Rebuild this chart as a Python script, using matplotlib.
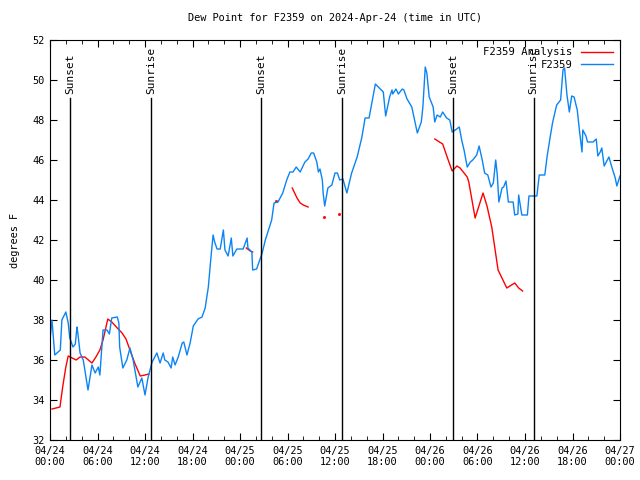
import numpy as np
import matplotlib
matplotlib.use("Agg")
import matplotlib.pyplot as plt
from matplotlib.ticker import MultipleLocator

# F2359 station dew point, hours since 04/24 00:00 UTC
obs_hours = [0.0, 0.25, 0.6, 1.3, 1.5, 2.0, 2.3, 2.5, 2.9, 3.2, 3.4, 3.5, 3.8, 4.2, 4.8, 5.3, 5.7, 6.1, 6.3, 6.7,
             7.2, 7.5, 7.8, 8.5, 8.7, 8.8, 9.2, 9.7, 10.1, 10.5, 11.1, 11.6, 12.0, 12.4, 12.9, 13.5, 13.9, 14.3, 14.5, 14.9,
             15.3, 15.5, 15.8, 16.2, 16.7, 16.9, 17.3, 17.7, 18.1, 18.7, 19.2, 19.6, 20.0, 20.3, 20.6, 20.8, 21.1, 21.5, 21.9, 22.1,
             22.5, 22.9, 23.1, 23.6, 24.4, 24.9, 25.0, 25.5, 25.6, 26.1, 26.8, 27.2, 28.0, 28.3, 28.8, 29.4, 29.9, 30.3, 30.7, 31.1,
             31.6, 32.2, 32.6, 33.0, 33.3, 33.7, 33.9, 34.1, 34.4, 34.5, 34.7, 35.1, 35.6, 36.0, 36.3, 36.6, 37.0, 37.5, 38.1, 38.8,
             39.4, 39.8, 40.3, 41.1, 41.6, 42.1, 42.4, 42.9, 43.2, 43.3, 43.7, 44.0, 44.5, 44.7, 45.1, 45.7, 46.1, 46.4, 46.9, 47.1,
             47.4, 47.6, 47.9, 48.4, 48.6, 48.9, 49.3, 49.6, 50.1, 50.5, 50.8, 51.2, 51.7, 52.0, 52.3, 52.7, 53.1, 53.4, 53.9, 54.2,
             54.6, 54.9, 55.3, 55.7, 56.0, 56.3, 56.5, 56.7, 57.1, 57.3, 57.6, 57.9, 58.5, 58.7, 59.1, 59.2, 59.6, 60.3, 60.5, 61.5,
             61.8, 62.5, 62.8, 63.2, 63.5, 64.0, 64.5, 64.8, 65.0, 65.3, 65.6, 65.9, 66.2, 66.6, 66.9, 67.2, 67.3, 67.7, 67.9, 68.6,
             69.0, 69.2, 69.5, 69.7, 70.0, 70.4, 70.6, 71.0, 71.4, 71.6, 72.0]
obs_dewpt = [37.0, 38.0, 36.25, 36.5, 38.0, 38.4, 37.85, 37.1, 36.65, 36.8, 37.65, 37.4, 36.35, 36.0, 34.5, 35.75, 35.35, 35.65, 35.25, 37.5,
             37.5, 37.3, 38.1, 38.15, 37.85, 36.65, 35.6, 36.0, 36.6, 36.0, 34.65, 35.1, 34.25, 35.15, 35.9, 36.35, 35.85, 36.35, 36.0, 35.9,
             35.6, 36.15, 35.75, 36.15, 36.85, 36.9, 36.25, 36.85, 37.7, 38.05, 38.15, 38.6, 39.65, 41.0, 42.25, 41.9, 41.55, 41.55, 42.5, 41.5,
             41.2, 42.1, 41.2, 41.55, 41.55, 42.1, 41.6, 41.4, 40.5, 40.55, 41.35, 42.0, 43.0, 43.85, 43.9, 44.35, 45.0, 45.4, 45.4, 45.65,
             45.4, 45.9, 46.05, 46.35, 46.35, 45.9, 45.4, 45.55, 45.0, 44.35, 43.7, 44.6, 44.75, 45.35, 45.35, 45.0, 45.05, 44.35, 45.35, 46.15,
             47.15, 48.1, 48.1, 49.8, 49.6, 49.4, 48.2, 49.15, 49.5, 49.3, 49.55, 49.3, 49.55, 49.5, 49.05, 48.65, 47.9, 47.35, 47.9, 48.65,
             50.65, 50.35, 49.15, 48.65, 47.9, 48.25, 48.15, 48.4, 48.1, 48.0, 47.4, 47.5, 47.65, 47.0, 46.5, 45.65, 45.9, 46.0, 46.25, 46.7,
             46.0, 45.35, 45.25, 44.65, 44.85, 46.0, 45.25, 43.9, 44.6, 44.65, 44.95, 43.9, 43.9, 43.25, 43.3, 44.25, 43.25, 43.25, 44.2, 44.2,
             45.25, 45.25, 46.2, 47.2, 47.9, 48.75, 49.0, 50.5, 50.6, 49.25, 48.4, 49.2, 49.15, 48.5, 47.4, 46.4, 47.5, 47.2, 46.9, 46.9,
             47.05, 46.2, 46.4, 46.6, 45.7, 46.0, 46.15, 45.6, 45.1, 44.7, 45.2]

# analysis values, nan = missing
ana_hours = [0.25, 1.26, 1.6, 2.0, 2.3, 2.8, 3.3, 3.8, 4.4, 5.3, 5.8, 6.3, 6.7, 7.3, 7.8, 8.5, 9.1, 9.6, 10.1, 10.7,
             11.4, 12.0, 12.5, 18.0, 24.8, 25.3, 25.6, 27.0, 28.5, 29.5, 30.6, 31.2, 31.6, 32.0, 32.6, 33.5, 34.6, 35.5, 36.5, 42.0,
             48.6, 49.6, 50.3, 50.8, 51.4, 51.8, 52.7, 52.9, 53.7, 54.7, 55.2, 55.8, 56.6, 57.7, 58.7, 59.2, 59.7]
ana_dewpt = [33.55, 33.65, 34.65, 35.65, 36.2, 36.1, 36.0, 36.15, 36.15, 35.85, 36.15, 36.5, 37.0, 38.05, 37.9, 37.6, 37.35, 37.05, 36.5, 35.85,
             35.2, 35.25, 35.3, np.nan, 41.6, 41.45, 41.4, np.nan, 43.95, np.nan, 44.6, 44.1, 43.85, 43.75, 43.65, np.nan, 43.15, np.nan, 43.3, np.nan,
             47.05, 46.8, 46.0, 45.45, 45.7, 45.6, 45.15, 44.9, 43.1, 44.35, 43.7, 42.65, 40.5, 39.6, 39.85, 39.6, 39.45]

sun_hours = [2.53, 12.76, 26.65, 36.9, 50.9, 61.1]
sun_labels = ["Sunset", "Sunrise", "Sunset", "Sunrise", "Sunset", "Sunrise"]

tick_labels = ["04/24\n00:00", "04/24\n06:00", "04/24\n12:00", "04/24\n18:00",
               "04/25\n00:00", "04/25\n06:00", "04/25\n12:00", "04/25\n18:00",
               "04/26\n00:00", "04/26\n06:00", "04/26\n12:00", "04/26\n18:00", "04/27\n00:00"]

plt.rcParams["font.family"] = "DejaVu Sans Mono"
plt.rcParams["font.size"] = 7.4

fig = plt.figure(figsize=(6.4, 4.8), dpi=100)
ax = fig.add_axes([50 / 640, 40 / 480, 570 / 640, 400 / 480])

red = "#ff0000"
blue = "#0a84f5"

ah = np.array(ana_hours)
av = np.array(ana_dewpt)
ax.plot(ah, av, color=red, lw=1.0)
# lone analysis values have no neighbours to join, mark them as dots
lone = [i for i in range(len(av)) if not np.isnan(av[i])
        and (i == 0 or np.isnan(av[i - 1])) and (i == len(av) - 1 or np.isnan(av[i + 1]))]
ax.plot(ah[lone], av[lone], ls="none", marker="s", ms=1.0, color=red)
ax.plot(obs_hours, obs_dewpt, color=blue, lw=1.0)

for h, lab in zip(sun_hours, sun_labels):
    ax.plot([h, h], [32, 49.1], color="black", lw=1.0)
    ax.text(h, 49.3, lab, rotation=90, ha="center", va="bottom", fontsize=8)

ax.set_xlim(0, 72)
ax.set_ylim(32, 52)
ax.set_xticks(np.arange(0, 73, 6))
ax.set_xticklabels(tick_labels)
ax.xaxis.set_minor_locator(MultipleLocator(2))
ax.yaxis.set_major_locator(MultipleLocator(2))
ax.tick_params(which="both", direction="in", top=True, right=True, pad=4)
ax.tick_params(which="major", length=5)
ax.tick_params(which="minor", length=3)
ax.set_ylabel("degrees F", labelpad=9)
ax.set_title("Dew Point for F2359 on 2024-Apr-24 (time in UTC)", fontsize=7.4, pad=14)

# gnuplot-like key in the top right
ax.plot([], [], color=red, lw=1.0, label="F2359 Analysis")
ax.plot([], [], color=blue, lw=1.0, label="F2359")
handles, labels = ax.get_legend_handles_labels()
ax.legend(handles[-2:], labels[-2:], loc="upper right", frameon=False, markerfirst=False,
          handlelength=3.0, borderaxespad=0.3, labelspacing=0.25, handletextpad=0.8,
          fontsize=7.6)

fig.savefig("out.png", dpi=100)
